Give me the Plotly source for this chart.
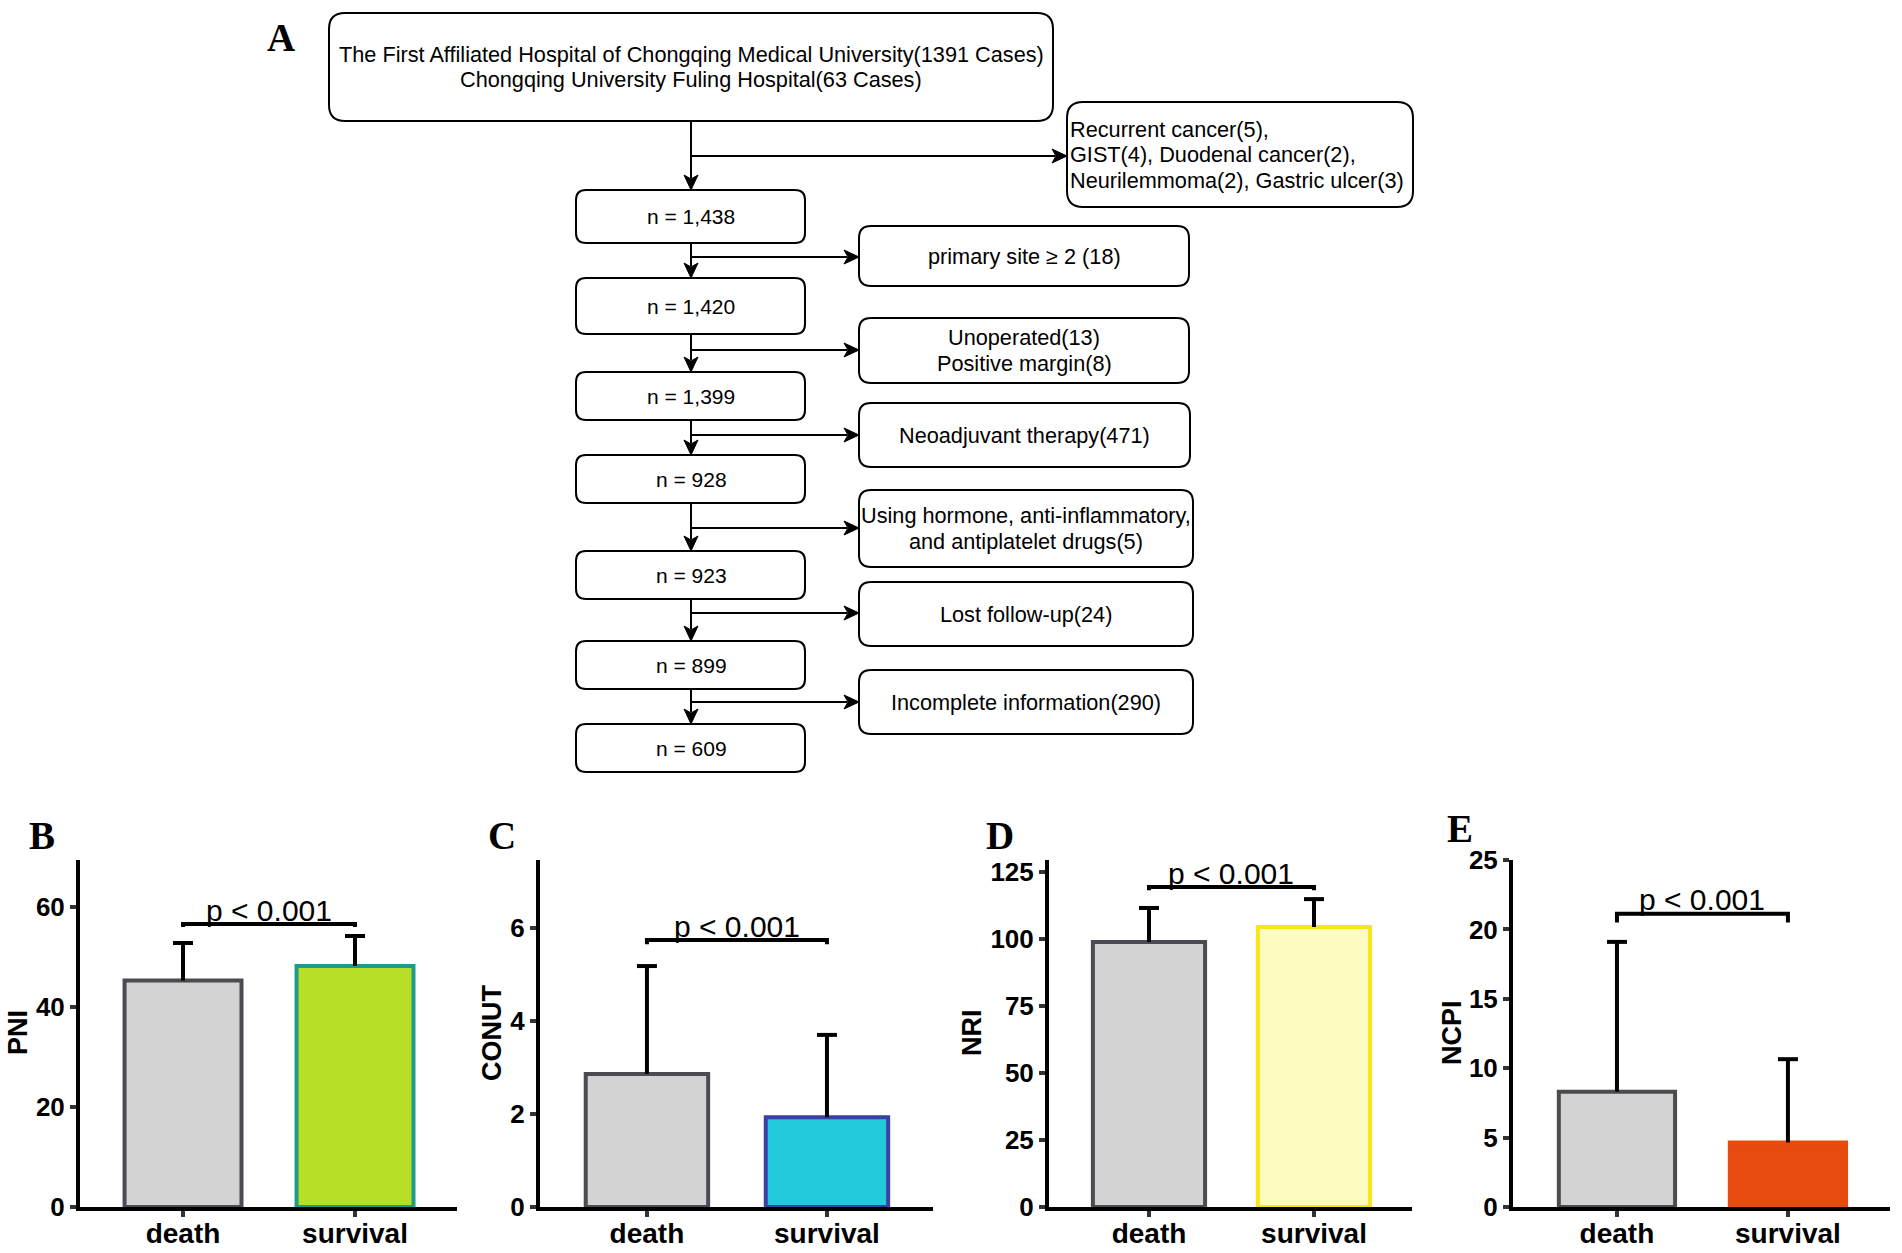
import plotly.graph_objects as go

W, H = 1902, 1253

# ---------------- data ----------------
groups = ["death", "survival"]
pni_mean = [45.3, 48.2]
pni_sd = [7.5, 6.0]
conut_mean = [2.86, 1.93]
conut_sd = [2.32, 1.77]
nri_mean = [98.9, 104.5]
nri_sd = [12.7, 10.4]
ncpi_mean = [8.3, 4.65]
ncpi_sd = [10.8, 6.0]
p_label = "p &lt; 0.001"
y_titles = ["PNI", "CONUT", "NRI", "NCPI"]
panel_letters = ["A", "B", "C", "D", "E"]

source_lines = ["The First Affiliated Hospital of Chongqing Medical University(1391 Cases)",
                "Chongqing University Fuling Hospital(63 Cases)"]
first_excl_lines = ["Recurrent cancer(5),", "GIST(4), Duodenal cancer(2),",
                    "Neurilemmoma(2), Gastric ulcer(3)"]
main_labels = ["n = 1,438", "n = 1,420", "n = 1,399", "n = 928", "n = 923", "n = 899", "n = 609"]
excl_lines = [["primary site ≥ 2 (18)"],
              ["Unoperated(13)", "Positive margin(8)"],
              ["Neoadjuvant therapy(471)"],
              ["Using hormone, anti-inflammatory,", "and antiplatelet drugs(5)"],
              ["Lost follow-up(24)"],
              ["Incomplete information(290)"]]

# ---------------- layout geometry (pixels) ----------------
top_box = (329, 1053, 13, 121)
first_excl_box = (1067, 1413, 102, 207)
first_arrow_y = 156
main_x = (576, 805)
main_line_x = 691
main_boxes_y = [(190, 243), (278, 334), (372, 420), (455, 503), (551, 599), (641, 689), (724, 772)]
excl_boxes = [(859, 1189, 226, 286), (859, 1189, 318, 383), (859, 1190, 403, 467),
              (859, 1193, 490, 567), (859, 1193, 582, 646), (859, 1193, 670, 734)]
arrow_ys = [257, 350, 435, 528, 613, 702]
line_step = 25.5

FONT = "Liberation Sans, Arial, sans-serif"
SERIF = "Liberation Serif, Times New Roman, serif"

grey_fill = "#D3D3D3"
grey_line = "#4B4B52"
panels = [
    dict(mean=pni_mean, sd=pni_sd, xpx=(80, 457), xr=(-0.599, 1.593), yr=(0, 69.4), dtick=20,
         fill="#B7DF28", line="#1F9A8C", bracket=56.6, leg=0.6),
    dict(mean=conut_mean, sd=conut_sd, xpx=(540, 933), xr=(-0.594, 1.589), yr=(0, 7.46), dtick=2,
         fill="#22CADB", line="#3B3FA6", bracket=5.74, leg=0.09),
    dict(mean=nri_mean, sd=nri_sd, xpx=(1049, 1412), xr=(-0.606, 1.594), yr=(0, 129.5), dtick=25,
         fill="#FDFCC0", line="#F8E51C", bracket=119.4, leg=1.2),
    dict(mean=ncpi_mean, sd=ncpi_sd, xpx=(1513, 1890), xr=(-0.608, 1.597), yr=(0, 25), dtick=5,
         fill="#E84B0E", line="#E84B0E", bracket=21.13, leg=0.64),
]
ytitle_pos = [(18, 1033), (492, 1033), (972, 1033), (1452, 1033)]
letter_pos = [(281, 37), (42, 835), (502, 835), (1000, 835), (1460, 828)]
plot_top_px, plot_bot_px = 860, 1207

fig = go.Figure()
layout = dict(width=W, height=H, autosize=False,
              margin=dict(l=0, r=0, t=0, b=0, pad=0, autoexpand=False),
              paper_bgcolor="white", plot_bgcolor="rgba(0,0,0,0)", showlegend=False)
shapes = []
annotations = []

yd = [1 - plot_bot_px / H, 1 - plot_top_px / H]

for i, p in enumerate(panels, start=1):
    xa, ya = f"x{i}", f"y{i}"
    x0, x1 = p["xpx"]
    ppu = (x1 - x0) / (p["xr"][1] - p["xr"][0])
    cap = 10 / ppu
    fig.add_trace(go.Bar(x=[0, 1], y=p["mean"], width=0.68, xaxis=xa, yaxis=ya,
                         marker=dict(color=[grey_fill, p["fill"]],
                                     line=dict(color=[grey_line, p["line"]], width=4)),
                         hoverinfo="skip"))
    ex, ey = [], []
    for k, (m, s) in enumerate(zip(p["mean"], p["sd"])):
        ex += [k, k, None, k - cap, k + cap, None]
        ey += [m, m + s, None, m + s, m + s, None]
    fig.add_trace(go.Scatter(x=ex, y=ey, mode="lines", xaxis=xa, yaxis=ya,
                             line=dict(color="black", width=4), hoverinfo="skip"))
    b, lg = p["bracket"], p["leg"]
    fig.add_trace(go.Scatter(x=[0, 0, 1, 1], y=[b - lg, b, b, b - lg], mode="lines",
                             xaxis=xa, yaxis=ya, line=dict(color="black", width=4),
                             hoverinfo="skip"))
    annotations.append(dict(x=0.5, y=b, xref=xa, yref=ya, text=p_label, showarrow=False,
                            yanchor="middle", yshift=14,
                            font=dict(family=FONT, size=30, color="black")))
    layout[f"xaxis{i}"] = dict(domain=[x0 / W, x1 / W], range=list(p["xr"]), anchor=ya,
                               tickvals=[0, 1], ticktext=groups, showline=True, linewidth=4,
                               linecolor="black", ticks="outside", ticklen=6, tickwidth=4,
                               tickcolor="#333333", showgrid=False, zeroline=False,
                               automargin=False, ticklabelstandoff=-8,
                               tickfont=dict(family=FONT, size=28, color="black", weight="bold"),
                               fixedrange=True)
    layout[f"yaxis{i}"] = dict(domain=yd, range=list(p["yr"]), anchor=xa, tick0=0,
                               dtick=p["dtick"], showline=True, linewidth=4, linecolor="black",
                               ticks="outside", ticklen=6, tickwidth=4, tickcolor="#333333",
                               showgrid=False, zeroline=False, automargin=False,
                               tickfont=dict(family=FONT, size=26, color="black", weight="bold"),
                               fixedrange=True)

# pixel canvas axis for the flowchart and labels
layout["xaxis5"] = dict(domain=[0, 1], range=[0, W], visible=False, anchor="y5",
                        fixedrange=True, automargin=False)
layout["yaxis5"] = dict(domain=[0, 1], range=[H, 0], visible=False, anchor="x5",
                        fixedrange=True, automargin=False)
fig.add_trace(go.Scatter(x=[0], y=[0], xaxis="x5", yaxis="y5", mode="markers",
                         marker=dict(opacity=0), hoverinfo="skip"))


def rrect(x0, x1, y0, y1, r):
    return (f"M{x0 + r},{y0} L{x1 - r},{y0} Q{x1},{y0} {x1},{y0 + r} L{x1},{y1 - r} "
            f"Q{x1},{y1} {x1 - r},{y1} L{x0 + r},{y1} Q{x0},{y1} {x0},{y1 - r} "
            f"L{x0},{y0 + r} Q{x0},{y0} {x0 + r},{y0} Z")


def box(b, r=11):
    shapes.append(dict(type="path", path=rrect(*b, r), xref="x5", yref="y5",
                       line=dict(color="black", width=2), fillcolor="white"))


def line(xa, ya, xb, yb):
    shapes.append(dict(type="line", x0=xa, y0=ya, x1=xb, y1=yb, xref="x5", yref="y5",
                       line=dict(color="black", width=2)))


def head(x, y, d):
    L, hw, n = 15, 7, 4
    if d == "down":
        pth = f"M{x},{y} L{x - hw},{y - L} L{x},{y - L + n} L{x + hw},{y - L} Z"
    else:
        pth = f"M{x},{y} L{x - L},{y - hw} L{x - L + n},{y} L{x - L},{y + hw} Z"
    shapes.append(dict(type="path", path=pth, xref="x5", yref="y5",
                       line=dict(color="black", width=1), fillcolor="black"))


def varrow(x, ya, yb):
    line(x, ya, x, yb - 12)
    head(x, yb, "down")


def harrow(y, xa, xb):
    line(xa, y, xb - 12, y)
    head(xb, y, "right")


def lines_label(x, yc, lines, size=21.7, xanchor="center"):
    n = len(lines)
    for j, t in enumerate(lines):
        y = yc + (j - (n - 1) / 2) * line_step
        annotations.append(dict(x=x, y=y, xref="x5", yref="y5", text=t, showarrow=False,
                                xanchor=xanchor, yanchor="middle",
                                font=dict(family=FONT, size=size, color="black")))


# flowchart
box(top_box, 16)
lines_label((top_box[0] + top_box[1]) / 2, (top_box[2] + top_box[3]) / 2, source_lines)
box(first_excl_box, 16)
lines_label(first_excl_box[0] + 1, (first_excl_box[2] + first_excl_box[3]) / 2,
            first_excl_lines, xanchor="left")
varrow(main_line_x, top_box[3], main_boxes_y[0][0])
harrow(first_arrow_y, main_line_x, first_excl_box[0])
for k, (ys, txt) in enumerate(zip(main_boxes_y, main_labels)):
    box((main_x[0], main_x[1], ys[0], ys[1]), 10)
    lines_label(main_line_x, (ys[0] + ys[1]) / 2, [txt], size=21)
    if k + 1 < len(main_boxes_y):
        varrow(main_line_x, ys[1], main_boxes_y[k + 1][0])
for eb, txt, ay in zip(excl_boxes, excl_lines, arrow_ys):
    box(eb, 12)
    lines_label((eb[0] + eb[1]) / 2, (eb[2] + eb[3]) / 2, txt)
    harrow(ay, main_line_x, eb[0])

# panel letters and y titles
for (x, y), t in zip(letter_pos, panel_letters):
    annotations.append(dict(x=x, y=y, xref="x5", yref="y5", text=f"<b>{t}</b>", showarrow=False,
                            xanchor="center", yanchor="middle",
                            font=dict(family=SERIF, size=39, color="black")))
for (x, y), t in zip(ytitle_pos, y_titles):
    annotations.append(dict(x=x, y=y, xref="x5", yref="y5", text=f"<b>{t}</b>", showarrow=False,
                            xanchor="center", yanchor="middle", textangle=-90,
                            font=dict(family=FONT, size=27, color="black")))

layout["shapes"] = shapes
layout["annotations"] = annotations
fig.update_layout(**layout)

fig.write_html("out.html", config={"displayModeBar": False},
               post_script="document.body.style.margin='0';"
                           "document.documentElement.style.overflow='hidden';")
